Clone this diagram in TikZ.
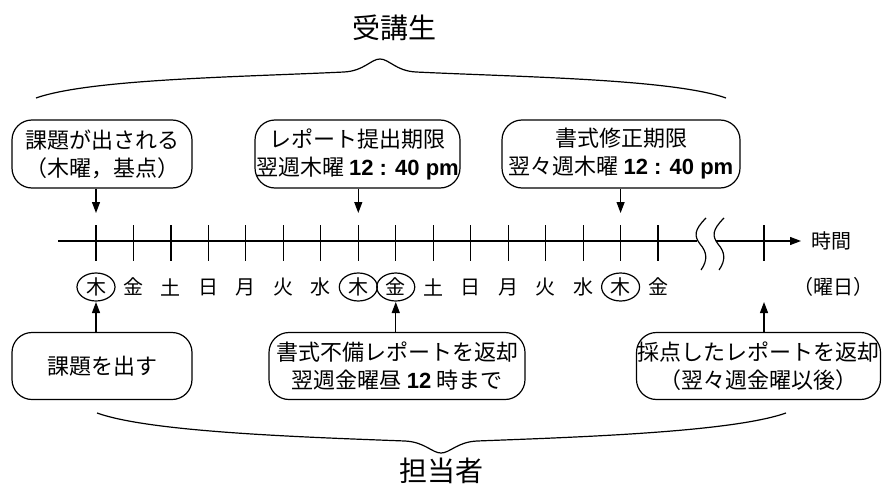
\documentclass[tikz,border=0pt]{standalone}
\usepackage{fontspec}
\setmainfont{Noto Sans CJK JP}
\newfontfamily\lat{Liberation Sans}
\usetikzlibrary{arrows.meta}
\begin{document}
\begin{tikzpicture}[x=1pt,y=-1pt,line width=1.2pt,
  box/.style={draw,rounded corners=20pt,align=center,inner sep=0pt,
    font=\fontsize{22}{28}\selectfont},
  day/.style={inner sep=0pt,font=\fontsize{20}{24}\selectfont},
  big/.style={inner sep=0pt,font=\fontsize{28}{32}\selectfont},
  arr/.style={-{Triangle[length=11pt,width=8pt]}}]
\useasboundingbox (0,0) rectangle (882,492);
% timeline
\coordinate (lstart) at (58,241);
\coordinate (lbreak) at (697,241);
\coordinate (rstart) at (716,241);
\coordinate (lend) at (801,241);
\draw (lstart) -- (lbreak);
\draw[arr] (rstart) -- (lend);
\draw (706,218) .. controls (694,230) and (694,236) .. (700,244) .. controls (707,252) and (708,260) .. (701,270);
\draw (724,218) .. controls (712,230) and (712,236) .. (718,244) .. controls (725,252) and (726,260) .. (719,270);
\node[day,anchor=west] (time) at (811,241) {時間};
% ticks and day labels
\foreach \k/\lbl in {0/木,1/金,2/土,3/日,4/月,5/火,6/水,7/木,8/金,9/土,10/日,11/月,12/火,13/水,14/木,15/金}{
  \coordinate (t\k) at ({96+37.47*\k},241);
  \draw (t\k) ++(0,-16) -- ++(0,36);
  \node[day] (d\k) at ({96+37.47*\k},287) {\lbl};
}
\coordinate (tx) at (764,241);
\draw (tx) ++(0,-16) -- ++(0,36);
\node[day] (unit) at (833,287) {（曜日）};
\foreach \k in {0,7,8,14}{
  \draw (d\k) ellipse [x radius=19pt,y radius=14pt];
}
% top boxes
\node[box,minimum width=180pt,minimum height=68pt] (tb1) at (102,154) {課題が出される\\（木曜，基点）};
\node[box,minimum width=205pt,minimum height=68pt] (tb2) at (357.5,154) {レポート提出期限\\翌週木曜 {\lat\bfseries 12 : 40 pm}};
\node[box,minimum width=238pt,minimum height=68pt] (tb3) at (621,154) {書式修正期限\\翌々週木曜 {\lat\bfseries 12 : 40 pm}};
\coordinate (p0) at (96,213);
\coordinate (p7) at ({96+37.47*7},213);
\coordinate (p14) at ({96+37.47*14},213);
\draw[arr] (tb1.south -| p0) -- (p0);
\draw[arr] (tb2.south -| p7) -- (p7);
\draw[arr] (tb3.south -| p14) -- (p14);
% bottom boxes
\node[box,minimum width=180pt,minimum height=67pt] (bb1) at (102,366) {課題を出す};
\node[box,minimum width=256pt,minimum height=67pt] (bb2) at (397,366) {書式不備レポートを返却\\翌週金曜昼 {\lat\bfseries 12} 時まで};
\node[box,minimum width=244pt,minimum height=67pt] (bb3) at (758.5,366) {採点したレポートを返却\\（翌々週金曜以後）};
\coordinate (q0) at (96,302);
\coordinate (q8) at ({96+37.47*8},302);
\coordinate (qx) at (764,302);
\draw[arr] (bb1.north -| q0) -- (q0);
\draw[arr] (bb2.north -| q8) -- (q8);
\draw[arr] (bb3.north -| qx) -- (qx);
% braces
\draw (36,98) .. controls (90,79) and (240,77) .. (344,72) .. controls (364,71) and (371,59) .. (380,59) .. controls (389,59) and (396,71) .. (416,72) .. controls (520,77) and (672,79) .. (726,98);
\node[big] (students) at (394,28) {受講生};
\draw (97,413) .. controls (150,432) and (300,437) .. (405,441) .. controls (425,442) and (432,453) .. (441,453) .. controls (450,453) and (457,442) .. (477,441) .. controls (582,437) and (732,432) .. (786,413);
\node[big] (staff) at (441,471) {担当者};
\end{tikzpicture}
\end{document}
